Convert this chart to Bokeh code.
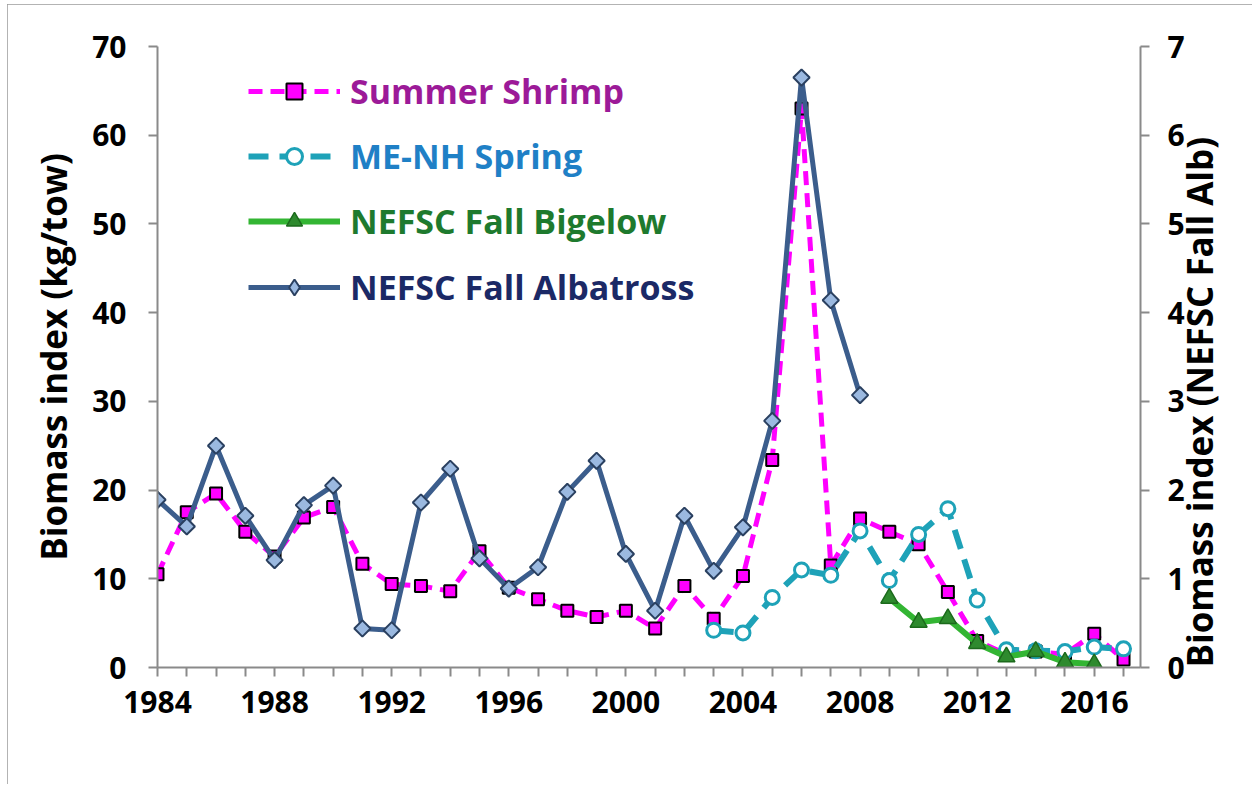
import math
from bokeh.plotting import figure
from bokeh.models import Range1d, LinearAxis, FixedTicker, Legend, LegendItem
from bokeh.embed import file_html
from bokeh.resources import INLINE

# ---------------- data ----------------
shrimp_years = list(range(1984, 2018))
shrimp = [10.5, 17.5, 19.6, 15.3, 12.5, 16.9, 18.1, 11.7, 9.4, 9.2, 8.6, 13.1,
          9.0, 7.7, 6.4, 5.7, 6.4, 4.4, 9.2, 5.5, 10.3, 23.4, 63.0, 11.5, 16.8,
          15.3, 13.9, 8.5, 3.0, 1.5, 1.8, 1.5, 3.8, 0.9]

menh_years = list(range(2003, 2018))
menh = [4.2, 3.9, 7.9, 11.0, 10.4, 15.4, 9.8, 15.0, 17.9, 7.6, 2.0, 1.9, 1.8, 2.3, 2.1]

bigelow_years = list(range(2009, 2017))
bigelow = [7.8, 5.1, 5.5, 2.7, 1.2, 1.8, 0.6, 0.4]

alb_years = list(range(1984, 2009))
albatross = [1.89, 1.59, 2.50, 1.71, 1.21, 1.83, 2.05, 0.44, 0.42, 1.86, 2.24, 1.23,
             0.89, 1.13, 1.98, 2.33, 1.28, 0.64, 1.71, 1.09, 1.58, 2.78, 6.65, 4.14, 3.07]

x_ticks = list(range(1984, 2018))
x_labels = {y: (str(y) if (y - 1984) % 4 == 0 else "") for y in x_ticks}
left_ticks = [0, 10, 20, 30, 40, 50, 60, 70]
right_ticks = [0, 1, 2, 3, 4, 5, 6, 7]

labels = ["Summer Shrimp", "ME-NH Spring", "NEFSC Fall Bigelow", "NEFSC Fall Albatross"]
left_title = "Biomass index (kg/tow)"
right_title = "Biomass index (NEFSC Fall Alb)"

# ---------------- figure ----------------
FONT = "Open Sans"
W, H = 1245, 780
MBL, MBT = 150, 42
FW, FH = 983, 621
p = figure(width=W, height=H, output_backend="svg", toolbar_location=None,
           x_range=Range1d(1984, 2017.58), y_range=Range1d(0, 70),
           min_border_left=MBL, min_border_right=W - FW - MBL,
           min_border_top=MBT, min_border_bottom=H - MBT - FH,
           background_fill_color="white", border_fill_color="white",
           styles={"outline": "2px solid #9a9a9a", "outline-offset": "-2px",
                   "position": "relative", "left": "7px", "top": "4px"})
p.outline_line_color = None
p.xgrid.visible = False
p.ygrid.visible = False
p.extra_y_ranges = {"right": Range1d(0, 7)}

AXIS_GRAY = "#8a8a8a"

def style_axis(ax):
    ax.axis_line_color = AXIS_GRAY
    ax.axis_line_width = 2
    ax.major_tick_line_color = AXIS_GRAY
    ax.major_tick_line_width = 2
    ax.minor_tick_line_color = None
    ax.major_tick_in = 0
    ax.major_tick_out = 9
    ax.major_label_text_font = FONT
    ax.major_label_text_font_style = "bold"
    ax.major_label_text_font_size = "30px"
    ax.major_label_text_color = "black"
    ax.axis_label_text_font = FONT
    ax.axis_label_text_font_style = "bold"
    ax.axis_label_text_font_size = "35px"
    ax.axis_label_text_color = "black"

xa = p.xaxis[0]
xa.ticker = FixedTicker(ticks=x_ticks)
xa.major_label_overrides = x_labels
style_axis(xa)
xa.major_label_standoff = 14

ya = p.yaxis[0]
ya.ticker = FixedTicker(ticks=left_ticks)
ya.axis_label = left_title
style_axis(ya)
ya.major_label_standoff = 22
ya.axis_label_standoff = 12

ra = LinearAxis(y_range_name="right", ticker=FixedTicker(ticks=right_ticks),
                axis_label=right_title)
style_axis(ra)
ra.major_label_standoff = 18
ra.axis_label_standoff = 12
ra.axis_label_orientation = math.pi / 2
ra.axis_label_align = "start"
p.add_layout(ra, "right")

# ---------------- series ----------------
SH_C = "#ff00ff"
ME_C = "#1ea2b8"
BG_C = "#33b533"
AL_C = "#3b5d8c"

sh_l = p.line(shrimp_years, shrimp, line_color=SH_C, line_width=5, line_dash="14 8")
sh_m = p.scatter(shrimp_years, shrimp, marker="square", size=12, fill_color=SH_C,
                 line_color="black", line_width=2)

me_l = p.line(menh_years, menh, line_color=ME_C, line_width=6, line_dash="20 11")
me_m = p.scatter(menh_years, menh, marker="circle", size=14, fill_color="white",
                 line_color=ME_C, line_width=3)

bg_l = p.line(bigelow_years, bigelow, line_color=BG_C, line_width=6)
bg_m = p.scatter(bigelow_years, bigelow, marker="triangle", size=17, fill_color="#2e8a2e",
                 line_color="#1c6a1c", line_width=1.5)

al_l = p.line(alb_years, albatross, line_color=AL_C, line_width=5, y_range_name="right")
# legend marker (diamond), drawn on the first point and covered by the data marker
al_leg = p.scatter(alb_years[:1], albatross[:1], marker="diamond", size=16,
                   fill_color="#9bb9e0", line_color="#2a4060", line_width=2,
                   y_range_name="right")
al_m = p.scatter(alb_years, albatross, marker="square", angle=math.pi / 4, size=11.5,
                 fill_color="#9bb9e0", line_color="#2a4060", line_width=2,
                 y_range_name="right")

# ---------------- legends ----------------
legend_colors = ["#9c1a98", "#1f80c6", "#1e7a2e", "#1b2966"]
renderers = [[sh_l, sh_m], [me_l, me_m], [bg_l, bg_m], [al_l, al_leg]]
bottoms = [553, 488, 423, 357]
for lab, col, rs, b in zip(labels, legend_colors, renderers, bottoms):
    lg = Legend(items=[LegendItem(label=lab, renderers=rs)], location=(91, b),
                orientation="vertical")
    lg.border_line_color = None
    lg.background_fill_alpha = 0
    lg.padding = 0
    lg.margin = 0
    lg.glyph_width = 92
    lg.glyph_height = 40
    lg.label_height = 40
    lg.label_standoff = 10
    lg.label_text_font = FONT
    lg.label_text_font_style = "bold"
    lg.label_text_font_size = "34px"
    lg.label_text_color = col
    lg.label_text_baseline = "middle"
    p.add_layout(lg, "center")

open("out.html", "w").write(file_html(p, INLINE))
